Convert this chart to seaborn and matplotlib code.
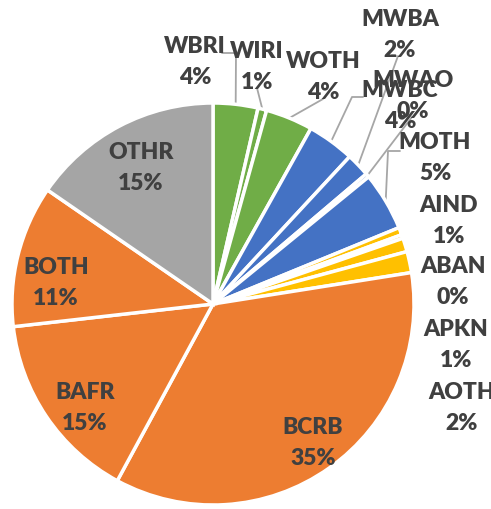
import numpy as np
import matplotlib
matplotlib.use("Agg")
import matplotlib.pyplot as plt
import seaborn as sns

# slice data, clockwise from 12 o'clock
categories = ["WBRI", "WIRI", "WOTH", "MWBC", "MWBA", "MWAO", "MOTH",
              "AIND", "ABAN", "APKN", "AOTH", "BCRB", "BAFR", "BOTH", "OTHR"]
shares = [3.6, 0.7, 3.8, 3.8, 1.9, 0.3, 4.7,
          0.6, 0.3, 1.1, 1.7, 35.4, 15.3, 11.4, 15.4]
groups = ["W", "W", "W", "M", "M", "M", "M",
          "A", "A", "A", "A", "B", "B", "B", "O"]

group_colors = {"W": "#70AD47", "M": "#4472C4", "A": "#FFC000",
                "B": "#ED7D31", "O": "#A5A5A5"}

# label block centres, in pixels of the 491x510 picture
label_px = {
    "WBRI": (195, 62), "WIRI": (257, 67), "WOTH": (323, 77),
    "MWBA": (400, 35), "MWAO": (413, 96), "MWBC": (400, 106),
    "MOTH": (435, 158), "AIND": (449, 221), "ABAN": (453, 282),
    "APKN": (456, 345), "AOTH": (462, 408),
    "OTHR": (141, 168), "BOTH": (56, 283), "BAFR": (85, 408),
    "BCRB": (313, 443),
}
# leader lines: points (pixels) from the label towards the slice edge
leader_px = {
    "WBRI": [(222, 54), (236, 54)],
    "WIRI": [(257, 89)],
    "WOTH": [(323, 100)],
    "MWBC": [(363, 98), (352, 98)],
    "MWBA": [(398, 57)],
    "MWAO": [(412, 118)],
    "MOTH": [(400, 152), (388, 152)],
}

W, H = 491, 510
CX, CY, R = 213, 305, 201


def px(x, y):
    return (x - CX) / R, (CY - y) / R


sns.set_theme(style="white")
plt.rcParams["font.family"] = ["Lato", "DejaVu Sans"]

fig = plt.figure(figsize=(W / 100, H / 100), dpi=100)
ax = fig.add_axes([0, 0, 1, 1])

colors = [group_colors[g] for g in groups]
wedges, _ = ax.pie(shares, colors=colors, startangle=90, counterclock=False,
                   radius=1.0, wedgeprops=dict(edgecolor="white", linewidth=2.5))

ax.set_xlim(-CX / R, (W - CX) / R)
ax.set_ylim(-(H - CY) / R, CY / R)
ax.set_aspect("equal")
ax.axis("off")

line_color = "#A6A6A6"
for name, share, wedge in zip(categories, shares, wedges):
    lx, ly = px(*label_px[name])
    ax.text(lx, ly, f"{name}\n{round(share):d}%", ha="center", va="center",
            fontsize=16.5, fontweight="heavy", color="#404040", linespacing=1.55)
    if name in leader_px:
        mid = np.deg2rad((wedge.theta1 + wedge.theta2) / 2)
        pts = [px(*p) for p in leader_px[name]]
        pts.append((np.cos(mid), np.sin(mid)))
        xs, ys = zip(*pts)
        ax.plot(xs, ys, color=line_color, lw=1.3, zorder=0.5)

fig.savefig("out.png", dpi=100, facecolor="white")
